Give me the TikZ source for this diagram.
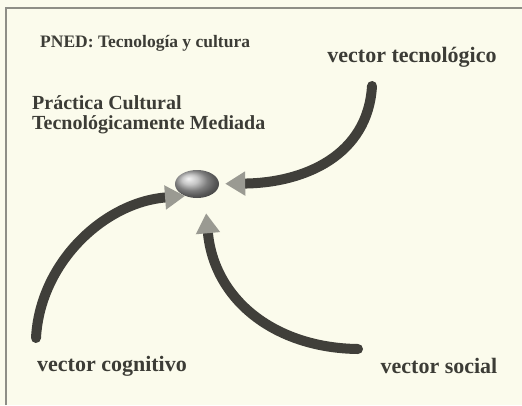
\documentclass[tikz,border=0pt]{standalone}
\usepackage{fontspec}
\setmainfont{Liberation Serif}
\usetikzlibrary{shapes.geometric,arrows.meta}
\definecolor{paper}{HTML}{FBFBEC}
\definecolor{ink}{HTML}{3C3C36}
\definecolor{shaft}{HTML}{403F3A}
\definecolor{tipgray}{HTML}{9A9A92}
\definecolor{frame}{HTML}{8E8E86}
\tikzset{
  lbl/.style={text=ink,font=\bfseries\fontsize{22}{26}\selectfont,inner sep=0pt},
  vec/.style={draw=shaft,line width=10pt,line cap=round,
    -{Triangle[length=20pt,width=23pt,color=tipgray,fill=tipgray]}},
  hub/.style={ellipse,minimum width=44pt,minimum height=28pt,inner sep=0pt,
    shading=ball,ball color=gray!60},
}
\begin{document}
\begin{tikzpicture}[x=1pt,y=-1pt]
\fill[paper] (0,0) rectangle (522,405);
\useasboundingbox (0,0) rectangle (522,405);
\draw[frame,line width=1.4pt] (6,405) -- (6,8) -- (522,8);
\node[text=ink,font=\bfseries\fontsize{17.5}{19}\selectfont,anchor=west,inner sep=0pt] (title) at (40,43) {PNED: Tecnología y cultura};
\node[text=ink,font=\bfseries\fontsize{20}{20}\selectfont,anchor=north west,inner sep=0pt,align=left] (prac) at (32,95) {Práctica Cultural\\Tecnológicamente Mediada};
\node[hub] (c) at (197,184) {};
\node[lbl] (tec) at (412,57) {vector tecnológico};
\node[lbl] (cog) at (112,366) {vector cognitivo};
\node[lbl] (soc) at (439,366) {vector social};
\coordinate (tecs) at (372,86);
\coordinate (cogs) at (36,338);
\coordinate (socs) at (358,349);
\draw[vec,shorten >=6pt] (tecs) .. controls (368,155) and (305,183) .. (c);
\draw[vec] (cogs) .. controls (40,262) and (105,202) .. (c.225);
\draw[vec,shorten >=16pt] (socs) .. controls (275,348) and (214,300) .. (c.300);
\end{tikzpicture}
\end{document}
